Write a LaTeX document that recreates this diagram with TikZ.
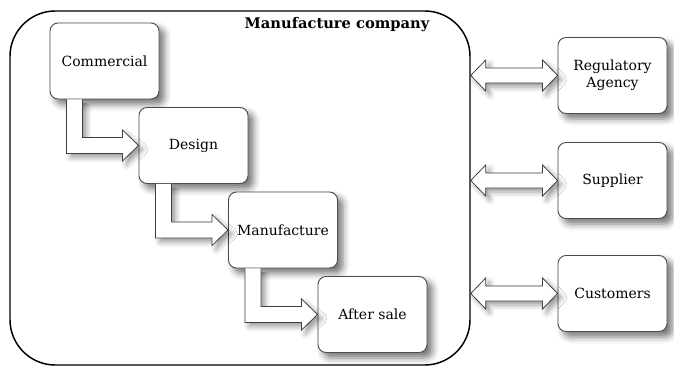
\documentclass[tikz,border=0pt]{standalone}
\usepackage{fontspec}
\setmainfont{DejaVu Serif}
\usetikzlibrary{calc,shadows.blur}

\tikzset{
 unit/.style={rounded corners=6pt, draw=black!70, line width=0.7pt, fill=white,
  minimum width=81.75pt, minimum height=57pt, align=center,
  font=\fontsize{10.5}{12.5}\selectfont,
  blur shadow={shadow xshift=4pt, shadow yshift=-4pt, shadow blur radius=5pt, shadow opacity=55}},
 company/.style={rounded corners=34pt, draw=black, line width=1.1pt,
  minimum width=345pt, minimum height=265.5pt},
 blockarrow/.style={draw=black!75, line width=0.6pt, fill=white,
  blur shadow={shadow xshift=3pt, shadow yshift=-3pt, shadow blur radius=4pt, shadow opacity=40}},
 heading/.style={font=\bfseries\fontsize{11}{13}\selectfont},
}

% L-shaped arrow from the bottom of #1 into the left side of #2
\newcommand{\steparrow}[2]{%
 \coordinate (o) at ($(#1.south west)+(17,0)$);
 \coordinate (i) at ($(#1.south west)+(33,0)$);
 \coordinate (t) at (#2.west);
 \draw[blockarrow] (o) -- ($(o |- t)+(0,8)$) -- ($(t)+(-16,8)$) -- ($(t)+(-16,15.5)$)
  -- (t) -- ($(t)+(-16,-15.5)$) -- ($(t)+(-16,-8)$) -- ($(i |- t)+(0,-8)$) -- (i);
}
% two-headed arrow from the company frame to a partner box
\newcommand{\linkarrow}[1]{%
 \coordinate (l) at (company.east |- #1.west);
 \draw[blockarrow] (l) -- ($(l)+(15,-15.5)$) -- ($(l)+(15,-7.5)$)
  -- ($(#1.west)+(-15,-7.5)$) -- ($(#1.west)+(-15,-15.5)$) -- (#1.west)
  -- ($(#1.west)+(-15,15.5)$) -- ($(#1.west)+(-15,7.5)$)
  -- ($(l)+(15,7.5)$) -- ($(l)+(15,15.5)$) -- cycle;
}

\begin{document}
\begin{tikzpicture}[x=0.75pt, y=-0.75pt]
\useasboundingbox (0,0) rectangle (674,367);

% company frame
\node[company] (company) at (240,188) {};
\node[heading, anchor=north east] (title) at (434,13) {Manufacture company};

% internal departments
\node[unit] (com) at (104.5,61) {Commercial};
\node[unit] (des) at (193.5,145.5) {Design};
\node[unit] (man) at (283,230) {Manufacture};
\node[unit] (aft) at (372.5,314.5) {After sale};

\steparrow{com}{des}
\steparrow{des}{man}
\steparrow{man}{aft}

% outside partners
\node[unit] (reg) at (612.5,75.5) {Regulatory\\Agency};
\node[unit] (sup) at (612.5,180.5) {Supplier};
\node[unit] (cus) at (612.5,293.5) {Customers};

\linkarrow{reg}
\linkarrow{sup}
\linkarrow{cus}
\end{tikzpicture}
\end{document}
